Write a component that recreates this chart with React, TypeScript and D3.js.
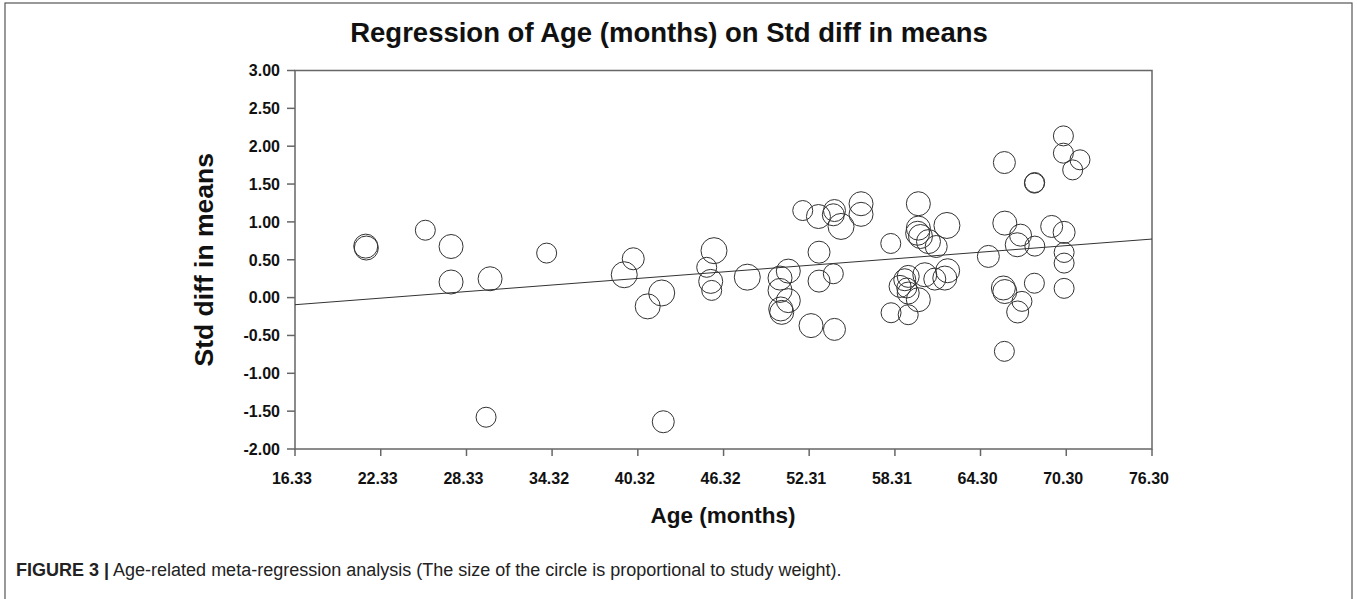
import React from "react";
import * as d3 from "d3";

// Age (months) of each study
const ages = [
  21.28, 21.32, 25.45, 27.25, 27.25, 29.98, 29.7, 33.94,
  40.0, 39.37, 41.99, 41.01, 42.1, 45.65, 45.14, 45.42, 45.49, 47.98,
  50.85, 50.27, 50.27, 50.85, 50.32, 50.39, 52.44, 54.08,
  51.86, 52.96, 54.08, 54.0, 54.54, 55.94, 55.94, 53.0, 54.0, 53.0,
  58.02, 59.95, 59.95, 59.9, 60.1, 60.66, 61.2, 61.95, 62.0, 61.8, 60.4, 61.1, 59.24, 59.0, 58.67, 59.14, 59.24, 59.95, 58.04, 59.24,
  65.97, 68.07, 68.09, 70.1, 70.1, 71.26, 70.75, 66.0, 67.1, 66.87, 68.1, 69.28, 70.15, 70.15, 70.15, 64.85, 65.9, 66.0, 68.07, 70.15, 67.2, 66.9, 65.97,
];
// Std diff in means of each study
const smd = [
  0.68, 0.655, 0.89, 0.675, 0.206, 0.249, -1.58, 0.588,
  0.513, 0.302, 0.061, -0.116, -1.64, 0.62, 0.4, 0.214, 0.095, 0.27,
  0.35, 0.258, 0.095, -0.04, -0.15, -0.195, -0.37, -0.42,
  1.15, 1.071, 1.15, 1.094, 0.94, 1.24, 1.1, 0.6, 0.315, 0.218,
  0.715, 1.24, 0.918, 0.85, 0.807, 0.74, 0.675, 0.953, 0.355, 0.258, 0.302, 0.245, 0.28, 0.236, 0.148, 0.127, 0.06, -0.028, -0.2, -0.226,
  1.784, 1.512, 1.52, 2.136, 1.908, 1.82, 1.687, 0.984, 0.825, 0.698, 0.68, 0.94, 0.862, 0.596, 0.456, 0.544, 0.127, 0.08, 0.19, 0.122, -0.05, -0.19, -0.71,
];
// Relative study weight (drives circle size)
const weights = [
  12, 12, 10, 12, 12, 12, 10, 10,
  11, 13, 13, 12.5, 11, 13, 10, 12, 10, 13,
  12, 12, 12, 12, 12, 12, 12, 11,
  10, 12, 11, 11, 13, 12, 12, 11, 10, 11,
  10, 12, 12, 12, 12, 12, 11, 13, 12, 12, 12, 11, 11, 11, 11, 10, 11, 12, 10, 10,
  11, 10, 10, 10, 10, 10, 10, 12, 11, 12, 10, 11, 11, 10, 10, 11, 12, 12, 10, 10, 10, 11, 10,
];

const xTicks = [16.33, 22.33, 28.33, 34.32, 40.32, 46.32, 52.31, 58.31, 64.3, 70.3, 76.3];
const yTicks = [3, 2.5, 2, 1.5, 1, 0.5, 0, -0.5, -1, -1.5, -2];
const regIntercept = -0.33;
const regSlope = 0.01446;

const title = "Regression of Age (months) on Std diff in means";
const xLabel = "Age (months)";
const yLabel = "Std diff in means";
const captionBold = "FIGURE 3 |";
const captionText = " Age-related meta-regression analysis (The size of the circle is proportional to study weight).";

const W = 1357;
const H = 599;
const FONT = "'Liberation Sans', Arial, Helvetica, sans-serif";

export default function App() {
  const left = 295, right = 1152, top = 70.5, bottom = 449;
  const x = d3.scaleLinear().domain([16.33, 76.3]).range([left, right]);
  const y = d3.scaleLinear().domain([-2, 3]).range([bottom, top]);
  const r = d3.scaleLinear().domain([10, 13]).range([10, 13]);

  const pts = ages.map((a, i) => ({ a, v: smd[i], w: weights[i] }));
  const line = d3.line<number>().x((d) => x(d)).y((d) => y(regIntercept + regSlope * d));
  const lineD = line([16.33, 76.3]) || "";

  return (
    <svg width={W} height={H} style={{ position: "absolute", left: 0, top: 0, background: "#fff" }}>
      <rect x={0} y={0} width={W} height={H} fill="#fff" />
      <rect x={5} y={3} width={1347} height={640} fill="none" stroke="#555" strokeWidth={1.2} />
      <text x={669} y={42} textAnchor="middle" fontFamily={FONT} fontWeight="bold" fontSize={27.5} fill="#111">
        {title}
      </text>
      <rect x={left} y={top} width={right - left} height={bottom - top} fill="none" stroke="#666" strokeWidth={1.5} />
      {yTicks.map((t) => (
        <g key={"y" + t}>
          <line x1={left - 8} x2={left} y1={y(t)} y2={y(t)} stroke="#666" strokeWidth={1.5} />
          <text x={280} y={y(t)} dy="0.36em" textAnchor="end" fontFamily={FONT} fontWeight="bold" fontSize={16} fill="#111">
            {t.toFixed(2)}
          </text>
        </g>
      ))}
      {xTicks.map((t) => (
        <g key={"x" + t}>
          <line x1={x(t)} x2={x(t)} y1={bottom} y2={bottom + 7} stroke="#666" strokeWidth={1.5} />
          <text x={x(t) - 3} y={484} textAnchor="middle" fontFamily={FONT} fontWeight="bold" fontSize={16} fill="#111">
            {t.toFixed(2)}
          </text>
        </g>
      ))}
      <text x={723} y={523} textAnchor="middle" fontFamily={FONT} fontWeight="bold" fontSize={22.5} fill="#111">
        {xLabel}
      </text>
      <text
        transform={`translate(213, ${(top + bottom) / 2}) rotate(-90)`}
        textAnchor="middle"
        fontFamily={FONT}
        fontWeight="bold"
        fontSize={26.5}
        fill="#111"
      >
        {yLabel}
      </text>
      <path d={lineD} fill="none" stroke="#333" strokeWidth={1} />
      {pts.map((p, i) => (
        <circle key={i} cx={x(p.a)} cy={y(p.v)} r={r(p.w)} fill="none" stroke="#333" strokeWidth={1} />
      ))}
      <text x={16} y={576} fontFamily={FONT} fontSize={18} fill="#222">
        <tspan fontWeight="bold">{captionBold}</tspan>
        <tspan>{captionText}</tspan>
      </text>
    </svg>
  );
}
